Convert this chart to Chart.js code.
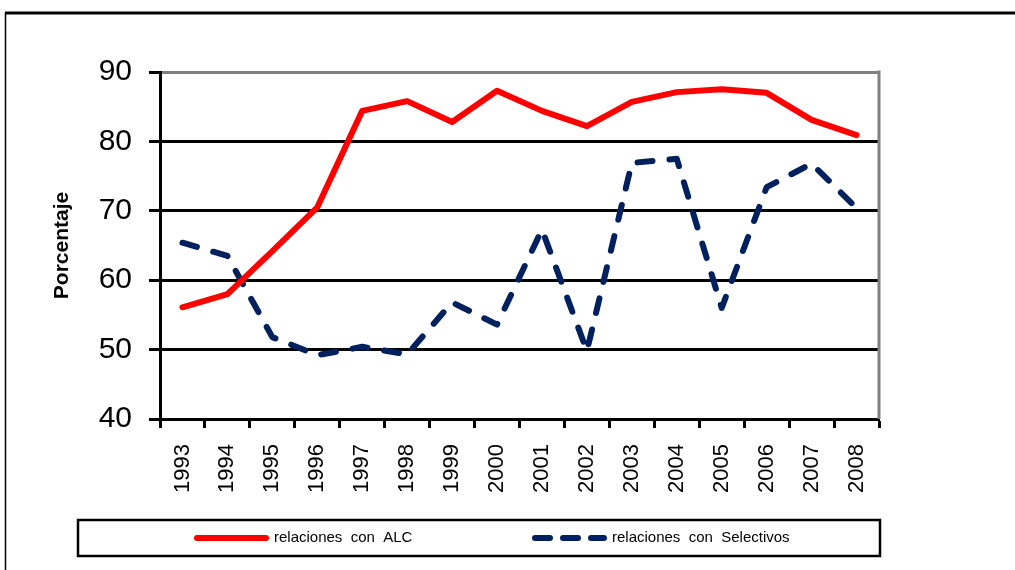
<!DOCTYPE html>
<html>
<head>
<meta charset="utf-8">
<script src="https://cdn.jsdelivr.net/npm/chart.js@4.4.1/dist/chart.umd.min.js"></script>
<style>
  html, body { margin: 0; padding: 0; background: #fff; }
  #wrap { width: 1015px; height: 570px; }
</style>
</head>
<body>
<div id="wrap"><canvas id="lineChart" width="1015" height="570"></canvas></div>
<script>
// data
const years = ["1993", "1994", "1995", "1996", "1997", "1998", "1999", "2000",
               "2001", "2002", "2003", "2004", "2005", "2006", "2007", "2008"];
const alcValues = [56.1, 58.0, 64.2, 70.5, 84.4, 85.8, 82.8, 87.3,
                   84.4, 82.2, 85.7, 87.1, 87.5, 87.0, 83.1, 80.9];
const selectivosValues = [65.4, 63.5, 51.8, 49.2, 50.4, 49.3, 56.8, 53.6,
                          67.3, 49.8, 76.9, 77.5, 56.0, 73.4, 76.8, 70.4];
const yTicks = [40, 50, 60, 70, 80, 90];

const FONT = '"Liberation Sans", Arial, sans-serif';

// frame, right border and boxed legend
const decorPlugin = {
    id: "decor",
    beforeDraw(chart) {
        const ctx = chart.ctx;
        ctx.save();
        ctx.fillStyle = "#fff";
        ctx.fillRect(0, 0, chart.width, chart.height);
        ctx.restore();
    },
    beforeDatasetsDraw(chart) {
        const ctx = chart.ctx;
        const area = chart.chartArea;
        ctx.save();
        ctx.strokeStyle = "#808080";
        ctx.lineWidth = 3;
        ctx.beginPath();
        ctx.moveTo(area.right, area.top - 1.5);
        ctx.lineTo(area.right, area.bottom);
        ctx.stroke();
        ctx.restore();
    },
    afterDraw(chart) {
        const ctx = chart.ctx;
        ctx.save();
        // outer frame
        ctx.strokeStyle = "#000";
        ctx.lineWidth = 3;
        ctx.beginPath();
        ctx.moveTo(5, 13);
        ctx.lineTo(1015, 13);
        ctx.stroke();
        ctx.lineWidth = 1.5;
        ctx.beginPath();
        ctx.moveTo(5.5, 12);
        ctx.lineTo(5.5, 570);
        ctx.stroke();

        // legend box
        ctx.lineWidth = 2.5;
        ctx.strokeRect(78, 520, 802, 36);

        const items = [
            { x1: 197, x2: 266, tx: 274 },
            { x1: 535, x2: 604, tx: 612 }
        ];
        const y = 538;
        chart.data.datasets.forEach(function (ds, i) {
            const it = items[i];
            ctx.save();
            ctx.strokeStyle = ds.borderColor;
            ctx.lineWidth = ds.borderWidth;
            ctx.lineCap = "round";
            ctx.setLineDash(ds.legendDash || []);
            ctx.beginPath();
            ctx.moveTo(it.x1, y);
            ctx.lineTo(it.x2, y);
            ctx.stroke();
            ctx.restore();
            ctx.fillStyle = "#000";
            ctx.font = "15px " + FONT;
            ctx.textBaseline = "middle";
            ctx.textAlign = "left";
            ctx.fillText(ds.label, it.tx, y);
        });
        ctx.restore();
    }
};

document.addEventListener("DOMContentLoaded", function () {
    const ctx = document.getElementById("lineChart").getContext("2d");

    new Chart(ctx, {
        type: "line",
        data: {
            labels: years,
            datasets: [{
                label: "relaciones  con  ALC",
                data: alcValues,
                borderColor: "#ff0000",
                borderWidth: 6,
                borderCapStyle: "round",
                borderJoinStyle: "round",
                pointRadius: 0,
                tension: 0,
                fill: false
            },
            {
                label: "relaciones  con  Selectivos",
                data: selectivosValues,
                borderColor: "#00215e",
                borderWidth: 6,
                borderDash: [15, 17],
                legendDash: [15, 13],
                borderCapStyle: "round",
                borderJoinStyle: "round",
                pointRadius: 0,
                tension: 0,
                fill: false
            }]
        },
        options: {
            responsive: false,
            devicePixelRatio: 1,
            animation: false,
            layout: { padding: { top: 72, right: 136, left: 0, bottom: 0 } },
            plugins: {
                legend: { display: false },
                tooltip: { enabled: false }
            },
            scales: {
                x: {
                    type: "category",
                    offset: true,
                    grid: {
                        offset: true,
                        drawOnChartArea: false,
                        drawTicks: true,
                        tickLength: 9,
                        tickWidth: 3,
                        tickColor: "#000"
                    },
                    border: { color: "#000", width: 3 },
                    ticks: {
                        autoSkip: false,
                        minRotation: 90,
                        maxRotation: 90,
                        padding: 16,
                        color: "#000",
                        font: { family: FONT, size: 22 }
                    },
                    afterFit: function (scale) { scale.height = 151; }
                },
                y: {
                    min: 40,
                    max: 90,
                    afterBuildTicks: function (scale) {
                        scale.ticks = yTicks.map(function (v) { return { value: v }; });
                    },
                    grid: {
                        color: function (c) {
                            return c.tick && c.tick.value === 90 ? "#808080" : "#000";
                        },
                        lineWidth: 3,
                        tickColor: "#000",
                        tickLength: 11
                    },
                    border: { color: "#000", width: 3 },
                    ticks: {
                        padding: 17,
                        color: "#000",
                        font: { family: FONT, size: 30 }
                    },
                    title: {
                        display: true,
                        text: "Porcentaje",
                        color: "#000",
                        font: { family: FONT, size: 21, weight: "bold" },
                        padding: { top: 50, bottom: 0 }
                    },
                    afterFit: function (scale) { scale.width = 160; }
                }
            }
        },
        plugins: [decorPlugin]
    });
});
</script>
</body>
</html>
